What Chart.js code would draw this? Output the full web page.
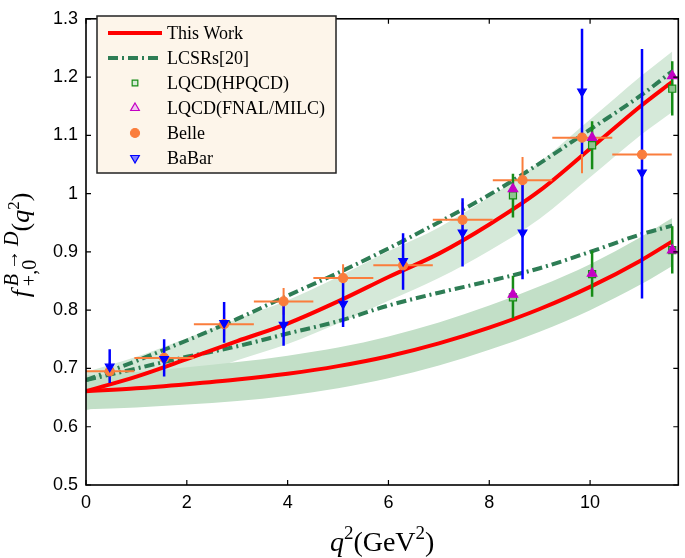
<!DOCTYPE html>
<html>
<head>
<meta charset="utf-8">
<script src="https://cdn.jsdelivr.net/npm/chart.js@4.4.1/dist/chart.umd.min.js"></script>
<style>
  html, body { margin: 0; padding: 0; background: #fff; }
  #wrap { width: 685px; height: 558px; position: relative; }
</style>
</head>
<body>
<div id="wrap"><canvas id="ffChart" width="685" height="558"></canvas></div>
<script>
// q^2 grid (GeV^2) for the theory curves and bands
const qGrid = [0, 1, 2, 3, 4, 5, 6, 7, 8, 9, 10, 11, 11.63];

// This Work: f+ (upper) and f0 (lower), with uncertainty bands
const thisWorkFplus = [0.661, 0.686, 0.716, 0.747, 0.777, 0.815, 0.857, 0.897, 0.947, 1.005, 1.077, 1.150, 1.192];
const thisWorkFzero = [0.661, 0.666, 0.673, 0.681, 0.691, 0.704, 0.721, 0.743, 0.770, 0.802, 0.840, 0.885, 0.918];
const fplusBandHi = [0.694, 0.720, 0.752, 0.785, 0.817, 0.857, 0.901, 0.942, 0.994, 1.054, 1.127, 1.201, 1.244];
const fplusBandLo = [0.628, 0.655, 0.684, 0.714, 0.742, 0.777, 0.816, 0.855, 0.902, 0.957, 1.028, 1.100, 1.140];
const fzeroBandHi = [0.688, 0.694, 0.702, 0.711, 0.722, 0.736, 0.755, 0.779, 0.808, 0.841, 0.879, 0.925, 0.958];
const fzeroBandLo = [0.630, 0.633, 0.638, 0.644, 0.653, 0.666, 0.683, 0.705, 0.732, 0.763, 0.800, 0.844, 0.876];

// LCSRs[20]
const lcsrFplus = [0.680, 0.713, 0.748, 0.785, 0.825, 0.864, 0.906, 0.951, 0.998, 1.052, 1.110, 1.168, 1.210];
const lcsrFzero = [0.680, 0.700, 0.720, 0.738, 0.760, 0.781, 0.808, 0.830, 0.850, 0.872, 0.900, 0.930, 0.945];

// Belle bins
const belleQ   = [0.47, 1.55, 2.74, 3.92, 5.10, 6.29, 7.47, 8.66, 9.84, 11.03];
const belleQLo = [0.00, 0.96, 2.14, 3.33, 4.51, 5.70, 6.88, 8.07, 9.25, 10.44];
const belleQHi = [0.96, 2.14, 3.33, 4.51, 5.70, 6.88, 8.07, 9.25, 10.44, 11.62];
const belleF   = [0.695, 0.718, 0.776, 0.815, 0.855, 0.877, 0.955, 1.023, 1.096, 1.067];
const belleErr = [0.016, 0.018, 0.020, 0.023, 0.024, 0.026, 0.030, 0.040, 0.061, 0.070];

// BaBar
const babarQ  = [0.47, 1.55, 2.74, 3.92, 5.10, 6.29, 7.47, 8.66, 9.84, 11.03];
const babarF  = [0.703, 0.716, 0.778, 0.775, 0.811, 0.884, 0.933, 0.933, 1.175, 1.036];
const babarLo = [0.675, 0.686, 0.744, 0.739, 0.771, 0.835, 0.875, 0.853, 1.068, 0.820];
const babarHi = [0.733, 0.750, 0.814, 0.811, 0.851, 0.932, 0.992, 1.024, 1.283, 1.248];

// Lattice QCD
const latticeQ = [8.47, 10.04, 11.63];
const hpqcdFplus   = [0.997, 1.083, 1.180];
const hpqcdFplusLo = [0.959, 1.042, 1.134];
const hpqcdFplusHi = [1.034, 1.124, 1.227];
const hpqcdFzero   = [0.822, 0.862, 0.903];
const hpqcdFzeroLo = [0.786, 0.823, 0.863];
const hpqcdFzeroHi = [0.859, 0.902, 0.944];
const fnalFplus = [1.008, 1.096, 1.202];
const fnalFzero = [0.827, 0.863, 0.903];

// axes
const xTicks = [0, 2, 4, 6, 8, 10];
const yTicks = [0.5, 0.6, 0.7, 0.8, 0.9, 1.0, 1.1, 1.2, 1.3];
const yTickLabels = ['0.5', '0.6', '0.7', '0.8', '0.9', '1', '1.1', '1.2', '1.3'];

const legendLabels = ['This Work', 'LCSRs[20]', 'LQCD(HPQCD)', 'LQCD(FNAL/MILC)', 'Belle', 'BaBar'];

const RED = '#ff0000';
const LCSR_GREEN = '#2e7d55';
const BELLE = '#fa7d3c';
const BABAR = '#0000ff';
const HPQCD = '#168c16';
const FNAL = '#c400c4';
const SERIF = '"Liberation Serif", "Times New Roman", serif';
const DASHDOT = [10, 4, 2, 4];

function pts(xs, ys) {
    return xs.map((x, i) => ({ x: x, y: ys[i] }));
}

function vBars(xs, lo, hi) {
    const out = [];
    xs.forEach((x, i) => {
        out.push({ x: x, y: lo[i] }, { x: x, y: hi[i] }, { x: x, y: null });
    });
    return out;
}

function hBars(lo, hi, ys) {
    const out = [];
    ys.forEach((y, i) => {
        out.push({ x: lo[i], y: y }, { x: hi[i], y: y }, { x: hi[i], y: null });
    });
    return out;
}

function curve(data, color, width, order, dash) {
    return {
        data: data, showLine: true, borderColor: color, borderWidth: width,
        borderDash: dash || [], pointRadius: 0, fill: false, order: order,
        cubicInterpolationMode: 'monotone'
    };
}

function band(data, color, order, fillPrev) {
    return {
        data: data, showLine: true, borderColor: 'rgba(0,0,0,0)', borderWidth: 1,
        pointRadius: 0, order: order, cubicInterpolationMode: 'monotone',
        backgroundColor: color, fill: fillPrev ? '-1' : false
    };
}

function errBars(data, color, width, order) {
    return {
        data: data, showLine: true, spanGaps: false, borderColor: color,
        borderWidth: width, pointRadius: 0, fill: false, order: order, tension: 0
    };
}

function marks(data, style, radius, fillC, lineC, order, rotation) {
    return {
        data: data, showLine: false, pointStyle: style, pointRadius: radius,
        pointBackgroundColor: fillC, pointBorderColor: lineC, pointBorderWidth: 1.2,
        pointRotation: rotation || 0, order: order
    };
}

const datasets = [
    band(pts(qGrid, fplusBandHi), '#d5e9d9', 12, false),
    band(pts(qGrid, fplusBandLo), '#d5e9d9', 12, true),
    band(pts(qGrid, fzeroBandHi), '#c2dfc7', 11, false),
    band(pts(qGrid, fzeroBandLo), '#c2dfc7', 11, true),
    curve(pts(qGrid, lcsrFplus), LCSR_GREEN, 4, 9, DASHDOT),
    curve(pts(qGrid, lcsrFzero), LCSR_GREEN, 4, 9, DASHDOT),
    curve(pts(qGrid, thisWorkFplus), RED, 4, 8),
    curve(pts(qGrid, thisWorkFzero), RED, 4, 8),
    errBars(hBars(belleQLo, belleQHi, belleF), BELLE, 2, 7),
    errBars(vBars(belleQ, belleF.map((f, i) => f - belleErr[i]), belleF.map((f, i) => f + belleErr[i])), BELLE, 2, 7),
    errBars(vBars(latticeQ, hpqcdFplusLo, hpqcdFplusHi), HPQCD, 2.5, 6),
    errBars(vBars(latticeQ, hpqcdFzeroLo, hpqcdFzeroHi), HPQCD, 2.5, 6),
    errBars(vBars(babarQ, babarLo, babarHi), BABAR, 2.5, 5),
    marks(pts(latticeQ, hpqcdFplus), 'rect', 5, '#8fc48f', HPQCD, 4),
    marks(pts(latticeQ, hpqcdFzero), 'rect', 5, '#8fc48f', HPQCD, 4),
    marks(pts(latticeQ, fnalFplus), 'triangle', 5.5, FNAL, FNAL, 3),
    marks(pts(latticeQ, fnalFzero), 'triangle', 5.5, FNAL, FNAL, 3),
    marks(pts(belleQ, belleF), 'circle', 4.5, BELLE, BELLE, 2),
    marks(pts(babarQ, babarF), 'triangle', 5, BABAR, BABAR, 1, 180)
];

function drawMarker(ctx, style, x, y, r, fillC, lineC, rot) {
    ctx.save();
    ctx.translate(x, y);
    if (rot) ctx.rotate(rot * Math.PI / 180);
    ctx.fillStyle = fillC;
    ctx.strokeStyle = lineC;
    ctx.lineWidth = 1.2;
    ctx.setLineDash([]);
    ctx.beginPath();
    if (style === 'rect') {
        const s = r * Math.SQRT1_2;
        ctx.rect(-s, -s, 2 * s, 2 * s);
    } else if (style === 'triangle') {
        const h = r * 1.5, w = r * Math.sqrt(3) / 2;
        ctx.moveTo(0, -r);
        ctx.lineTo(w, r / 2);
        ctx.lineTo(-w, r / 2);
        ctx.closePath();
    } else {
        ctx.arc(0, 0, r, 0, Math.PI * 2);
    }
    ctx.fill();
    ctx.stroke();
    ctx.restore();
}

function drawRich(ctx, parts, x, y) {
    let cx = x, prevX = x, last = 0;
    parts.forEach(p => {
        ctx.font = p.font;
        const pw = ctx.measureText(p.t).width;
        if (p.stack) {
            ctx.fillText(p.t, prevX, y + (p.dy || 0));
            if (pw > last) { cx = prevX + pw; last = pw; }
        } else {
            ctx.fillText(p.t, cx, y + (p.dy || 0));
            prevX = cx; last = pw; cx += pw;
        }
    });
    return cx - x;
}

function richWidth(ctx, parts) {
    let w = 0, last = 0;
    parts.forEach(p => {
        ctx.font = p.font;
        const pw = ctx.measureText(p.t).width;
        if (p.stack) { if (pw > last) { w += pw - last; last = pw; } }
        else { w += pw; last = pw; }
    });
    return w;
}

const decorPlugin = {
    id: 'decor',
    afterDraw(chart) {
        const ctx = chart.ctx;
        const a = chart.chartArea;
        const xs = chart.scales.x, ys = chart.scales.y;
        ctx.save();

        // frame + inward ticks
        ctx.strokeStyle = '#000';
        ctx.setLineDash([]);
        ctx.lineWidth = 1.2;
        xTicks.forEach(v => {
            const px = xs.getPixelForValue(v);
            ctx.beginPath();
            ctx.moveTo(px, a.bottom); ctx.lineTo(px, a.bottom - 5);
            ctx.moveTo(px, a.top); ctx.lineTo(px, a.top + 5);
            ctx.stroke();
        });
        yTicks.forEach(v => {
            const py = ys.getPixelForValue(v);
            ctx.beginPath();
            ctx.moveTo(a.left, py); ctx.lineTo(a.left + 5, py);
            ctx.moveTo(a.right, py); ctx.lineTo(a.right - 5, py);
            ctx.stroke();
        });
        ctx.lineWidth = 1.6;
        ctx.strokeRect(a.left, a.top, a.right - a.left, a.bottom - a.top);

        // legend box
        const bx = 97, by = 16, bw = 239, bh = 157;
        ctx.fillStyle = '#fdf5ea';
        ctx.fillRect(bx, by, bw, bh);
        ctx.lineWidth = 1.5;
        ctx.strokeStyle = '#222';
        ctx.strokeRect(bx, by, bw, bh);
        const rowY = [33, 58, 83, 108, 133, 158];
        const sx0 = 108, sx1 = 162, mx = 135, tx = 167;
        ctx.lineWidth = 4;
        ctx.strokeStyle = RED;
        ctx.beginPath(); ctx.moveTo(sx0, rowY[0]); ctx.lineTo(sx1, rowY[0]); ctx.stroke();
        ctx.strokeStyle = LCSR_GREEN;
        ctx.setLineDash(DASHDOT);
        ctx.beginPath(); ctx.moveTo(sx0, rowY[1]); ctx.lineTo(sx1, rowY[1]); ctx.stroke();
        ctx.setLineDash([]);
        drawMarker(ctx, 'rect', mx, rowY[2], 4, '#d7ecd7', HPQCD);
        drawMarker(ctx, 'triangle', mx, rowY[3], 5, '#f0c8f0', FNAL);
        drawMarker(ctx, 'circle', mx, rowY[4], 4.5, BELLE, BELLE);
        drawMarker(ctx, 'triangle', mx, rowY[5], 5, '#8080ff', BABAR, 180);
        ctx.fillStyle = '#000';
        ctx.font = '18px ' + SERIF;
        ctx.textBaseline = 'middle';
        ctx.textAlign = 'left';
        legendLabels.forEach((t, i) => ctx.fillText(t, tx, rowY[i] + 1));

        // axis titles
        ctx.textBaseline = 'alphabetic';
        ctx.fillStyle = '#000';
        const xParts = [
            { t: 'q', font: 'italic 28px ' + SERIF },
            { t: '2', font: '19px ' + SERIF, dy: -12 },
            { t: '(GeV', font: '28px ' + SERIF },
            { t: '2', font: '19px ' + SERIF, dy: -12 },
            { t: ')', font: '28px ' + SERIF }
        ];
        const xw = richWidth(ctx, xParts);
        drawRich(ctx, xParts, (a.left + a.right) / 2 - xw / 2, 551);

        const yParts = [
            { t: 'f', font: 'italic 26px ' + SERIF },
            { t: '\u2009', font: '20px ' + SERIF },
            { t: 'B\u2009\u2192\u2009D', font: 'italic 20px ' + SERIF, dy: -11 },
            { t: '+,0', font: '20px ' + SERIF, dy: 7, stack: true },
            { t: '(', font: '26px ' + SERIF },
            { t: 'q', font: 'italic 26px ' + SERIF },
            { t: '2', font: '17px ' + SERIF, dy: -10 },
            { t: ')', font: '26px ' + SERIF }
        ];
        const yw = richWidth(ctx, yParts);
        ctx.translate(29, 245);
        ctx.rotate(-Math.PI / 2);
        drawRich(ctx, yParts, -yw / 2, 0);
        ctx.restore();
    }
};

new Chart(document.getElementById('ffChart'), {
    type: 'scatter',
    data: { datasets: datasets },
    options: {
        responsive: false,
        devicePixelRatio: 1,
        animation: false,
        events: [],
        layout: { padding: { top: 8, right: 2, left: 0, bottom: 0 } },
        plugins: {
            legend: { display: false },
            tooltip: { enabled: false },
            filler: { propagate: false, drawTime: 'beforeDatasetsDraw' }
        },
        scales: {
            x: {
                type: 'linear', min: 0, max: 11.75,
                afterBuildTicks: s => { s.ticks = xTicks.map(v => ({ value: v })); },
                afterFit: s => { s.height = 73; },
                grid: { display: false, drawTicks: false },
                border: { display: false },
                ticks: {
                    padding: 7, color: '#000', maxRotation: 0,
                    font: { family: '"Liberation Sans", Arial, sans-serif', size: 18 },
                    callback: v => String(v)
                }
            },
            y: {
                type: 'linear', min: 0.5, max: 1.3,
                afterBuildTicks: s => { s.ticks = yTicks.map(v => ({ value: v })); },
                afterFit: s => { s.width = 86; },
                grid: { display: false, drawTicks: false },
                border: { display: false },
                ticks: {
                    padding: 8, color: '#000',
                    font: { family: '"Liberation Sans", Arial, sans-serif', size: 18 },
                    callback: (v, i) => yTickLabels[i]
                }
            }
        }
    },
    plugins: [decorPlugin]
});
</script>
</body>
</html>
